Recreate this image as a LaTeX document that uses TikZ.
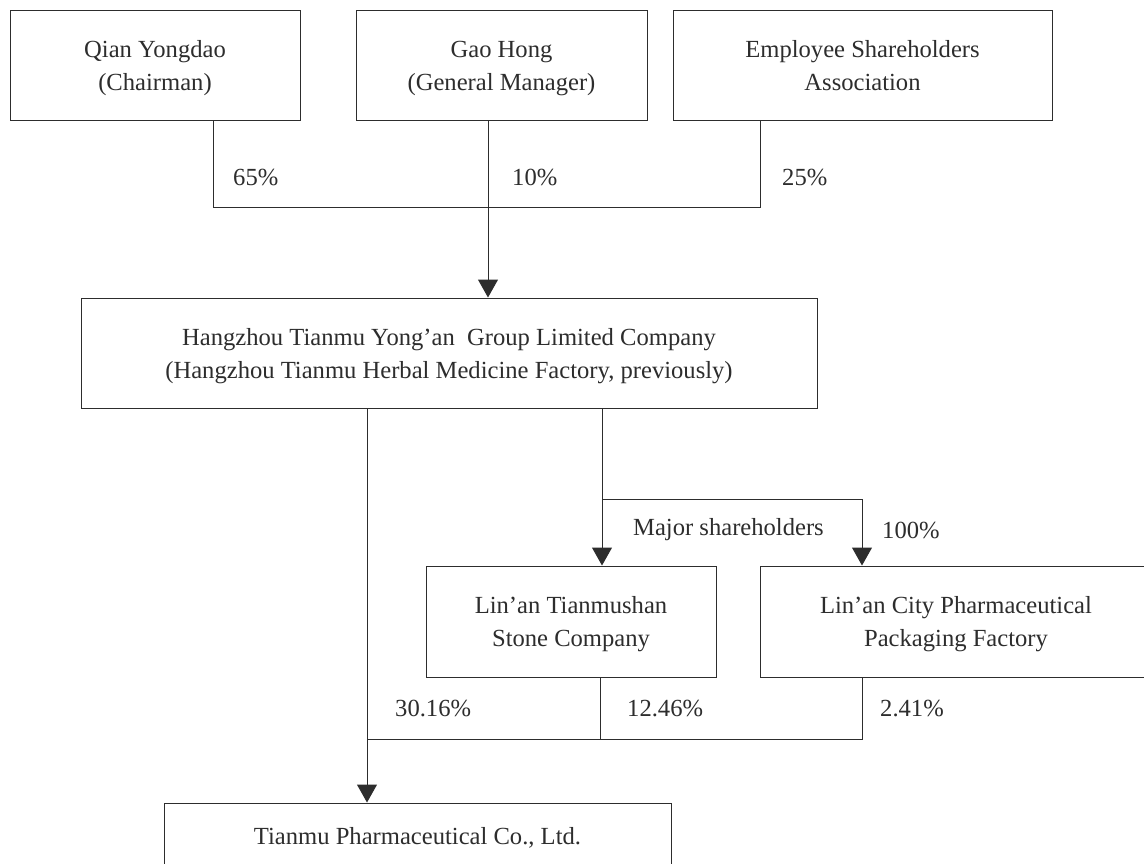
\documentclass[tikz,border=0pt]{standalone}
\usepackage{fontspec}
\setmainfont{Liberation Serif}
\usetikzlibrary{arrows.meta}
\definecolor{ink}{RGB}{45,45,45}
\newcommand{\topstrut}{\rule{0pt}{24pt}}
\newcommand{\botstrut}{\rule[-7pt]{0pt}{0pt}}
\tikzset{
  box/.style={draw=ink, line width=1pt, text=ink, align=center, inner sep=0pt,
    font=\fontsize{24.6}{33}\selectfont},
  ln/.style={draw=ink, line width=1pt},
  arr/.style={ln, -{Triangle[width=20pt,length=18pt]}},
  pct/.style={anchor=west, text=ink, inner sep=0pt, font=\fontsize{24.6}{33}\selectfont}
}
\begin{document}
\begin{tikzpicture}[x=1pt,y=-1pt]
\path[use as bounding box] (0,0) rectangle (1144,863);
\clip (0,0) rectangle (1144,863);
\fill[white] (0,0) rectangle (1144,863);
% boxes
\node[box, minimum width=290pt, minimum height=110pt] (qian) at (155,65) {\topstrut Qian Yongdao\\(Chairman)\botstrut};
\node[box, minimum width=291pt, minimum height=110pt] (gao) at (501.5,65) {\topstrut Gao Hong\\(General Manager)\botstrut};
\node[box, minimum width=379pt, minimum height=110pt] (emp) at (862.5,65) {\topstrut Employee Shareholders\\Association\botstrut};
\node[box, minimum width=736pt, minimum height=110pt] (main) at (449,353) {\topstrut Hangzhou Tianmu Yong’an\ \ Group Limited Company\\(Hangzhou Tianmu Herbal Medicine Factory, previously)\botstrut};
\node[box, minimum width=290pt, minimum height=111pt] (stone) at (571,621.5) {\topstrut Lin’an Tianmushan\\Stone Company\botstrut};
\node[box, minimum width=392pt, minimum height=111pt] (pack) at (956,621.5) {\topstrut Lin’an City Pharmaceutical\\Packaging Factory\botstrut};
\node[box, minimum width=507pt, minimum height=70pt] (tianmu) at (417.5,838) {Tianmu Pharmaceutical Co., Ltd.};
% junction coordinates
\coordinate (q1) at (213,207);
\coordinate (g1) at (488,207);
\coordinate (e1) at (760,207);
\coordinate (m1) at (367,739);
\coordinate (m2) at (602,499);
\coordinate (m3) at (862,499);
\coordinate (s1) at (600,739);
\coordinate (p1) at (862,739);
% connectors
\draw[ln] (qian.south -| q1) -- (q1) -- (e1) -- (emp.south -| e1);
\draw[arr] (gao.south -| g1) -- (main.north -| g1);
\draw[arr] (main.south -| m2) -- (stone.north -| m2);
\draw[arr] (m2) -- (m3) -- (pack.north -| m3);
\draw[arr] (main.south -| m1) -- (tianmu.north -| m1);
\draw[ln] (stone.south -| s1) -- (s1);
\draw[ln] (pack.south -| p1) -- (p1) -- (m1);
% labels
\node[pct] (l65) at (233,177) {65\%};
\node[pct] (l10) at (512,177) {10\%};
\node[pct] (l25) at (782,177) {25\%};
\node[pct] (lmaj) at (633,530) {Major shareholders};
\node[pct] (l100) at (882,530) {100\%};
\node[pct] (l30) at (395,708) {30.16\%};
\node[pct] (l12) at (627,708) {12.46\%};
\node[pct] (l2) at (880,708) {2.41\%};
\end{tikzpicture}
\end{document}
